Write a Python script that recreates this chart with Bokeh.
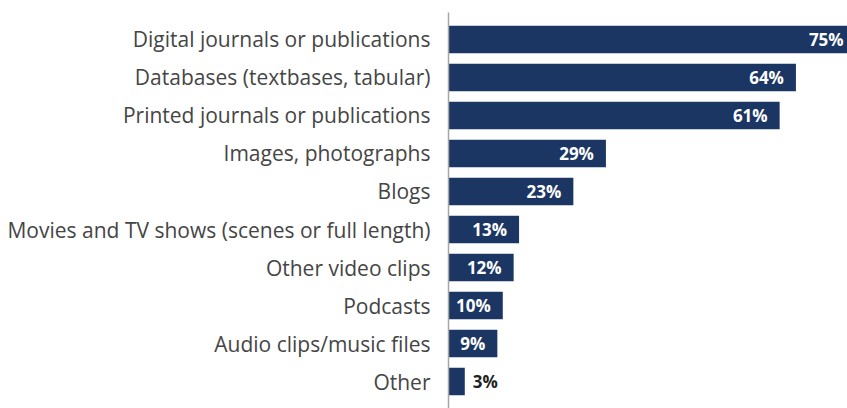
from bokeh.plotting import figure
from bokeh.models import FactorRange, Range1d, ColumnDataSource
from bokeh.core.properties import value
from bokeh.embed import file_html
from bokeh.resources import INLINE

categories = [
    "Digital journals or publications",
    "Databases (textbases, tabular)",
    "Printed journals or publications",
    "Images, photographs",
    "Blogs",
    "Movies and TV shows (scenes or full length)",
    "Other video clips",
    "Podcasts",
    "Audio clips/music files",
    "Other",
]
values = [75, 64, 61, 29, 23, 13, 12, 10, 9, 3]
labels = [f"{v}%" for v in values]

BAR = "#1c3664"

inside = [i for i, v in enumerate(values) if v >= 5]
outside = [i for i, v in enumerate(values) if v < 5]

src = ColumnDataSource(dict(cat=categories, val=values, lab=labels))
src_in = ColumnDataSource(dict(cat=[categories[i] for i in inside],
                               val=[values[i] for i in inside],
                               lab=[labels[i] for i in inside]))
src_out = ColumnDataSource(dict(cat=[categories[i] for i in outside],
                                val=[values[i] for i in outside],
                                lab=[labels[i] for i in outside]))

p = figure(width=847, height=408, output_backend="svg", toolbar_location=None,
           y_range=FactorRange(factors=categories[::-1], range_padding=0.042),
           x_range=Range1d(0, 73.5))
p.min_border_left = 448
p.min_border_right = 0
p.min_border_top = 12
p.min_border_bottom = 0
p.outline_line_color = None
p.xgrid.visible = False
p.ygrid.visible = False
p.xaxis.visible = False

p.hbar(y="cat", right="val", left=0, height=0.72, source=src,
       fill_color=BAR, line_color=None)

p.text(x="val", y="cat", text="lab", source=src_in, x_offset=-12,
       text_align="right", text_baseline="middle", text_color="white",
       text_font=value("Open Sans"), text_font_style="bold", text_font_size="17px")
p.text(x="val", y="cat", text="lab", source=src_out, x_offset=8,
       text_align="left", text_baseline="middle", text_color="#231f20",
       text_font=value("Open Sans"), text_font_style="bold", text_font_size="17px")

ax = p.yaxis[0]
ax.axis_line_color = "#a6a6a6"
ax.axis_line_width = 1.5
ax.major_tick_line_color = None
ax.minor_tick_line_color = None
ax.major_tick_out = 0
ax.major_tick_in = 0
ax.major_label_standoff = 18
ax.major_label_text_font = "Open Sans"
ax.major_label_text_font_size = "21px"
ax.major_label_text_color = "#454545"

open("out.html", "w").write(file_html(p, INLINE))
